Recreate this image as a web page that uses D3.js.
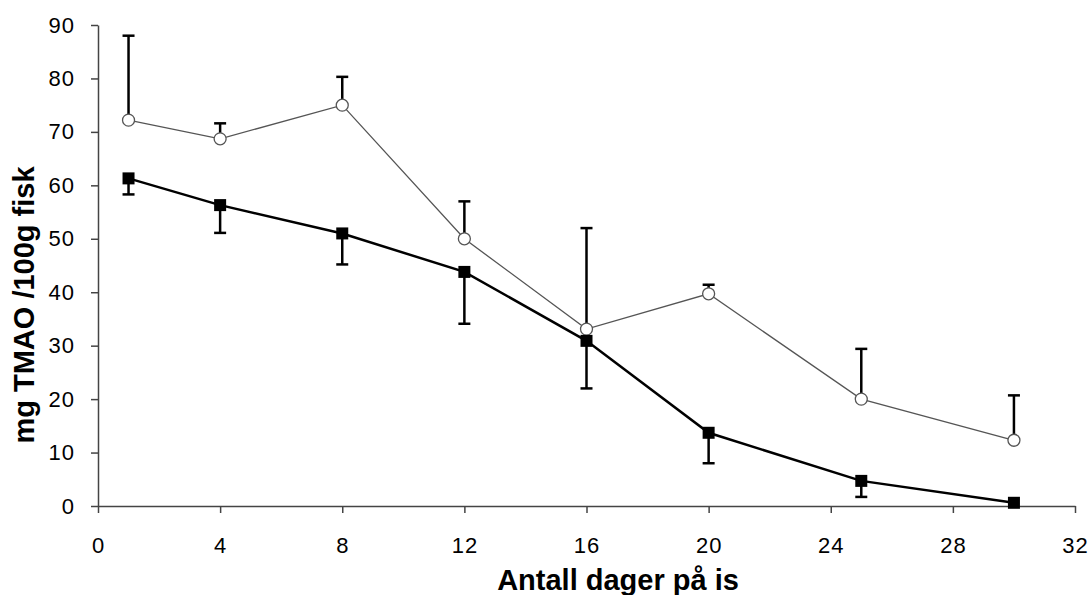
<!DOCTYPE html>
<html>
<head>
<meta charset="utf-8">
<script src="https://cdn.jsdelivr.net/npm/d3@7"></script>
<style>
  body { margin: 0; background: #fff; }
  text { font-family: "Liberation Sans", Arial, sans-serif; }
</style>
</head>
<body>
<div id="chart"></div>
<script>
// Dager på is
const days = [1, 4, 8, 12, 16, 20, 25, 30];

// Serie med åpne sirkler (feilstolper opp)
const openValues = [72.2, 68.7, 75.0, 50.0, 33.1, 39.7, 20.0, 12.3];
const openErrTop = [88.0, 71.6, 80.3, 57.0, 52.0, 41.4, 29.4, 20.7];

// Serie med fylte firkanter (feilstolper ned)
const filledValues = [61.3, 56.3, 51.0, 43.8, 30.9, 13.7, 4.7, 0.6];
const filledErrBottom = [58.3, 51.1, 45.2, 34.1, 22.0, 8.0, 1.7, 0.6];

const xTicks = [0, 4, 8, 12, 16, 20, 24, 28, 32];
const yTicks = [0, 10, 20, 30, 40, 50, 60, 70, 80, 90];

const width = 1092;
const height = 595;
const margin = { top: 25, right: 17, bottom: 89, left: 98 };

const svg = d3.select("#chart")
  .append("svg")
  .attr("width", width)
  .attr("height", height);

const x = d3.scaleLinear()
  .domain([0, 32])
  .range([margin.left, width - margin.right]);

const y = d3.scaleLinear()
  .domain([0, 90])
  .range([height - margin.bottom, margin.top]);

// Akser
const xAxis = svg.append("g")
  .attr("transform", `translate(0, ${height - margin.bottom})`)
  .call(d3.axisBottom(x).tickValues(xTicks).tickSize(7).tickPadding(24).tickSizeOuter(0));

const yAxis = svg.append("g")
  .attr("transform", `translate(${margin.left}, 0)`)
  .call(d3.axisLeft(y).tickValues(yTicks).tickSize(7).tickPadding(16).tickSizeOuter(0));

[xAxis, yAxis].forEach(g => {
  g.select(".domain").attr("stroke", "#444").attr("stroke-width", 1.5);
  g.selectAll(".tick line").attr("stroke", "#444").attr("stroke-width", 1.5);
  g.selectAll(".tick text")
    .attr("fill", "#000")
    .style("font-size", "22px")
    .style("letter-spacing", "1px")
    .style("font-family", "'Liberation Sans', Arial, sans-serif");
});

// Aksetitler
svg.append("text")
  .attr("x", 618)
  .attr("y", 590)
  .attr("text-anchor", "middle")
  .style("font-size", "29px")
  .style("font-weight", "bold")
  .text("Antall dager på is");

svg.append("text")
  .attr("transform", `translate(34, 305) rotate(-90)`)
  .attr("text-anchor", "middle")
  .style("font-size", "29px")
  .style("font-weight", "bold")
  .text("mg TMAO /100g fisk");

const capW = 6;

const openData = days.map((d, i) => ({ d, v: openValues[i], e: openErrTop[i] }));
const filledData = days.map((d, i) => ({ d, v: filledValues[i], e: filledErrBottom[i] }));

// Feilstolper
function drawErr(data) {
  const g = svg.append("g").attr("stroke", "#000").attr("stroke-width", 2.5);
  data.filter(p => Math.abs(p.e - p.v) > 0.1).forEach(p => {
    g.append("line")
      .attr("x1", x(p.d)).attr("x2", x(p.d))
      .attr("y1", y(p.v)).attr("y2", y(p.e));
    g.append("line")
      .attr("x1", x(p.d) - capW).attr("x2", x(p.d) + capW)
      .attr("y1", y(p.e)).attr("y2", y(p.e));
  });
}

drawErr(openData);
drawErr(filledData);

const line = d3.line().x(p => x(p.d)).y(p => y(p.v));

// Linjer
svg.append("path")
  .datum(openData)
  .attr("fill", "none")
  .attr("stroke", "#555")
  .attr("stroke-width", 1.3)
  .attr("d", line);

svg.append("path")
  .datum(filledData)
  .attr("fill", "none")
  .attr("stroke", "#000")
  .attr("stroke-width", 2.5)
  .attr("d", line);

// Markører
svg.selectAll(".circ")
  .data(openData)
  .enter()
  .append("circle")
  .attr("class", "circ")
  .attr("cx", p => x(p.d))
  .attr("cy", p => y(p.v))
  .attr("r", 6)
  .attr("fill", "#fff")
  .attr("stroke", "#555")
  .attr("stroke-width", 1.3);

const sq = 12;
svg.selectAll(".sq")
  .data(filledData)
  .enter()
  .append("rect")
  .attr("class", "sq")
  .attr("x", p => x(p.d) - sq / 2)
  .attr("y", p => y(p.v) - sq / 2)
  .attr("width", sq)
  .attr("height", sq)
  .attr("fill", "#000");
</script>
</body>
</html>
